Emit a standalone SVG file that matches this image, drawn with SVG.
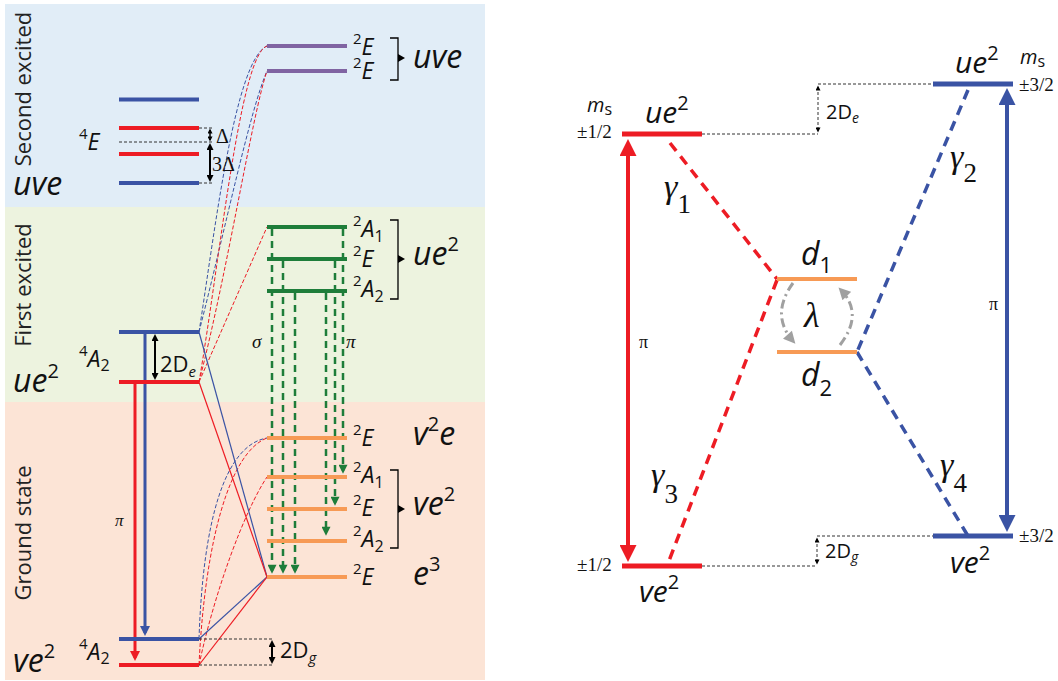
<svg xmlns="http://www.w3.org/2000/svg" width="1058" height="681" viewBox="0 0 1058 681">
<style>
.sans{font-family:'Open Sans','Liberation Sans',sans-serif;fill:#111}
.ser{font-family:'Liberation Serif',serif;fill:#111}
.it{font-style:italic}
.lab{font-size:23px}
.sp{font-size:15px;font-style:normal}
.sb{font-size:16px;font-style:normal}
.big{font-size:32px;font-style:italic}
.bsp{font-size:20px;font-style:normal}
.rot{font-size:22px;text-anchor:middle;fill:#222}
.lvl{stroke-width:4;fill:none}
.lvr{stroke-width:5;fill:none}
.thin{stroke-width:1.2;fill:none}
.tdash{stroke-width:1;fill:none;stroke-dasharray:4,2}
.gdash{stroke:#1e7d3a;stroke-width:2.5;stroke-dasharray:7,5;fill:none}
.cdash{stroke-width:3.5;stroke-dasharray:10,7;fill:none}
.kdash{stroke:#333;stroke-width:1;stroke-dasharray:3,2;fill:none}
</style>
<defs>
<marker id="mg" viewBox="0 0 10 10" refX="7" refY="5" markerWidth="12" markerHeight="9" markerUnits="userSpaceOnUse" orient="auto-start-reverse"><path d="M0,0L10,5L0,10z" fill="#1e7d3a"/></marker>
<marker id="mrs" viewBox="0 0 10 10" refX="7" refY="5" markerWidth="14" markerHeight="10" markerUnits="userSpaceOnUse" orient="auto-start-reverse"><path d="M0,0L10,5L0,10z" fill="#ed1c24"/></marker>
<marker id="mbs" viewBox="0 0 10 10" refX="7" refY="5" markerWidth="14" markerHeight="10" markerUnits="userSpaceOnUse" orient="auto-start-reverse"><path d="M0,0L10,5L0,10z" fill="#3a53a4"/></marker>
<marker id="mrl" viewBox="0 0 10 10" refX="7" refY="5" markerWidth="20" markerHeight="17" markerUnits="userSpaceOnUse" orient="auto-start-reverse"><path d="M0,0L10,5L0,10z" fill="#ed1c24"/></marker>
<marker id="mbl" viewBox="0 0 10 10" refX="7" refY="5" markerWidth="20" markerHeight="17" markerUnits="userSpaceOnUse" orient="auto-start-reverse"><path d="M0,0L10,5L0,10z" fill="#3a53a4"/></marker>
<marker id="mk" viewBox="0 0 10 10" refX="7" refY="5" markerWidth="8" markerHeight="7" markerUnits="userSpaceOnUse" orient="auto-start-reverse"><path d="M0,0L10,5L0,10z" fill="#000"/></marker>
<marker id="mks" viewBox="0 0 10 10" refX="7" refY="5" markerWidth="6" markerHeight="5" markerUnits="userSpaceOnUse" orient="auto-start-reverse"><path d="M0,0L10,5L0,10z" fill="#000"/></marker>
<marker id="mgr" viewBox="0 0 10 10" refX="7" refY="5" markerWidth="13" markerHeight="12" markerUnits="userSpaceOnUse" orient="auto-start-reverse"><path d="M0,0L10,5L0,10z" fill="#a0a0a0"/></marker>
</defs>

<g id="backgrounds">
<rect x="5" y="4" width="480" height="203" fill="#e1edf7"/>
<rect x="5" y="207" width="480" height="195" fill="#edf3df"/>
<rect x="5" y="402" width="480" height="278" fill="#fce4d6"/>
</g>

<g id="region-labels" class="sans">
<text class="rot" transform="translate(31,89) rotate(-90)">Second excited</text>
<text class="rot" transform="translate(31,285) rotate(-90)">First excited</text>
<text class="rot" transform="translate(31,533) rotate(-90)">Ground state</text>
<text x="13" y="195" class="big">uve</text>
<text x="13" y="392" class="big">ue<tspan class="bsp" dy="-14">2</tspan></text>
<text x="13" y="672" class="big">ve<tspan class="bsp" dy="-14">2</tspan></text>
</g>

<g id="connectors-left">
<path class="tdash" stroke="#3a53a4" d="M199,332 C215,230 235,60 267,46"/>
<path class="tdash" stroke="#3a53a4" d="M199,332 C225,230 250,110 267,71"/>
<path class="tdash" stroke="#ed1c24" d="M199,382 C220,260 240,55 267,46"/>
<path class="tdash" stroke="#ed1c24" d="M199,382 C228,270 252,115 267,71"/>
<path class="tdash" stroke="#ed1c24" d="M199,382 L267,227"/>
<path class="tdash" stroke="#3a53a4" d="M199,639 C203,520 225,445 267,438"/>
<path class="tdash" stroke="#ed1c24" d="M199,665 C205,540 230,452 267,438"/>
<path class="tdash" stroke="#ed1c24" d="M199,665 C215,590 245,510 267,477"/>
<path class="thin" stroke="#3a53a4" d="M199,332 L267,577"/>
<path class="thin" stroke="#ed1c24" d="M199,382 L267,577"/>
<path class="thin" stroke="#3a53a4" d="M199,639 L267,577"/>
<path class="thin" stroke="#ed1c24" d="M199,665 L267,577"/>
<line class="gdash" x1="272" y1="229" x2="272" y2="571" marker-end="url(#mg)"/>
<line class="gdash" x1="283" y1="261" x2="283" y2="571" marker-end="url(#mg)"/>
<line class="gdash" x1="295" y1="293" x2="295" y2="571" marker-end="url(#mg)"/>
<line class="gdash" x1="326" y1="293" x2="326" y2="533" marker-end="url(#mg)"/>
<line class="gdash" x1="335" y1="261" x2="335" y2="503" marker-end="url(#mg)"/>
<line class="gdash" x1="343" y1="229" x2="343" y2="471" marker-end="url(#mg)"/>
<line x1="135" y1="382" x2="135" y2="658" stroke="#ed1c24" stroke-width="3" marker-end="url(#mrs)"/>
<line x1="145" y1="332" x2="145" y2="633" stroke="#3a53a4" stroke-width="3" marker-end="url(#mbs)"/>
</g>

<g id="node-4E">
<line class="lvl" stroke="#3a53a4" x1="119" y1="99.5" x2="199" y2="99.5"/>
<line class="lvl" stroke="#ed1c24" x1="119" y1="128" x2="199" y2="128"/>
<line class="lvl" stroke="#ed1c24" x1="119" y1="154" x2="199" y2="154"/>
<line class="lvl" stroke="#3a53a4" x1="119" y1="183" x2="199" y2="183"/>
<line class="kdash" stroke="#555" x1="119" y1="142" x2="213" y2="142"/>
<line class="kdash" x1="199" y1="128" x2="213" y2="128"/>
<line class="kdash" x1="199" y1="183" x2="213" y2="183"/>
<line x1="210" y1="130" x2="210" y2="140" stroke="#000" stroke-width="1.5" marker-start="url(#mks)" marker-end="url(#mks)"/>
<line x1="210" y1="145" x2="210" y2="180" stroke="#000" stroke-width="2" marker-start="url(#mk)" marker-end="url(#mk)"/>
<text x="216" y="143" class="ser" font-size="20">Δ</text>
<text x="212" y="171" class="ser" font-size="20">3Δ</text>
<text x="79" y="150" class="sans it lab"><tspan class="sp" dy="-11">4</tspan><tspan dy="11">E</tspan></text>
</g>

<g id="node-uve-2E" class="sans">
<line class="lvl" stroke="#8064a2" x1="267" y1="46" x2="347" y2="46"/>
<line class="lvl" stroke="#8064a2" x1="267" y1="71" x2="347" y2="71"/>
<text x="353" y="55" class="it lab"><tspan class="sp" dy="-11">2</tspan><tspan dy="11">E</tspan></text>
<text x="353" y="79" class="it lab"><tspan class="sp" dy="-11">2</tspan><tspan dy="11">E</tspan></text>
<path d="M390,38H398V80H390" fill="none" stroke="#000" stroke-width="1.3"/>
<path d="M398,54L405,58L398,62z" fill="#000"/>
<text x="413" y="68" class="big">uve</text>
</g>

<g id="node-4A2-ue2">
<line class="lvl" stroke="#3a53a4" x1="119" y1="332" x2="199" y2="332"/>
<line class="lvl" stroke="#ed1c24" x1="119" y1="382" x2="199" y2="382"/>
<line x1="155" y1="336" x2="155" y2="378" stroke="#000" stroke-width="2" marker-start="url(#mk)" marker-end="url(#mk)"/>
<text x="160" y="372" class="sans" font-size="22">2D<tspan class="it" font-size="15" dy="5">e</tspan></text>
<text x="79" y="367" class="sans it lab"><tspan class="sp" dy="-11">4</tspan><tspan dy="11">A</tspan><tspan class="sb" dy="4">2</tspan></text>
</g>

<g id="node-ue2-doublets" class="sans">
<line class="lvl" stroke="#1e7d3a" x1="267" y1="227" x2="347" y2="227"/>
<line class="lvl" stroke="#1e7d3a" x1="267" y1="259" x2="347" y2="259"/>
<line class="lvl" stroke="#1e7d3a" x1="267" y1="291" x2="347" y2="291"/>
<text x="353" y="237" class="it lab"><tspan class="sp" dy="-11">2</tspan><tspan dy="11">A</tspan><tspan class="sb" dy="5">1</tspan></text>
<text x="353" y="267" class="it lab"><tspan class="sp" dy="-11">2</tspan><tspan dy="11">E</tspan></text>
<text x="353" y="297" class="it lab"><tspan class="sp" dy="-11">2</tspan><tspan dy="11">A</tspan><tspan class="sb" dy="5">2</tspan></text>
<path d="M390,220H398V299H390" fill="none" stroke="#000" stroke-width="1.3"/>
<path d="M398,255L405,259L398,263z" fill="#000"/>
<text x="413" y="265" class="big">ue<tspan class="bsp" dy="-14">2</tspan></text>
<text x="252" y="348" class="ser it" font-size="19">σ</text>
<text x="346" y="348" class="ser it" font-size="19">π</text>
</g>

<g id="node-ground-doublets" class="sans">
<line class="lvl" stroke="#f79a55" x1="267" y1="438" x2="347" y2="438"/>
<line class="lvl" stroke="#f79a55" x1="267" y1="477" x2="347" y2="477"/>
<line class="lvl" stroke="#f79a55" x1="267" y1="509" x2="347" y2="509"/>
<line class="lvl" stroke="#f79a55" x1="267" y1="541" x2="347" y2="541"/>
<line class="lvl" stroke="#f79a55" x1="267" y1="577" x2="347" y2="577"/>
<text x="353" y="446" class="it lab"><tspan class="sp" dy="-11">2</tspan><tspan dy="11">E</tspan></text>
<text x="413" y="445" class="big">v<tspan class="bsp" dy="-14">2</tspan><tspan dy="14">e</tspan></text>
<text x="353" y="483" class="it lab"><tspan class="sp" dy="-11">2</tspan><tspan dy="11">A</tspan><tspan class="sb" dy="5">1</tspan></text>
<text x="353" y="516" class="it lab"><tspan class="sp" dy="-11">2</tspan><tspan dy="11">E</tspan></text>
<text x="353" y="547" class="it lab"><tspan class="sp" dy="-11">2</tspan><tspan dy="11">A</tspan><tspan class="sb" dy="5">2</tspan></text>
<path d="M390,470H398V548H390" fill="none" stroke="#000" stroke-width="1.3"/>
<path d="M398,505L405,509L398,513z" fill="#000"/>
<text x="413" y="515" class="big">ve<tspan class="bsp" dy="-14">2</tspan></text>
<text x="353" y="585" class="it lab"><tspan class="sp" dy="-11">2</tspan><tspan dy="11">E</tspan></text>
<text x="413" y="585" class="big">e<tspan class="bsp" dy="-14">3</tspan></text>
</g>

<g id="node-4A2-ve2">
<line class="lvl" stroke="#3a53a4" x1="119" y1="639" x2="199" y2="639"/>
<line class="lvl" stroke="#ed1c24" x1="119" y1="665" x2="199" y2="665"/>
<line class="kdash" x1="199" y1="639" x2="272" y2="639"/>
<line class="kdash" x1="199" y1="665" x2="272" y2="665"/>
<line x1="272" y1="642" x2="272" y2="662" stroke="#000" stroke-width="2" marker-start="url(#mk)" marker-end="url(#mk)"/>
<text x="280" y="658" class="sans" font-size="22">2D<tspan class="it" font-size="15" dy="5">g</tspan></text>
<text x="79" y="660" class="sans it lab"><tspan class="sp" dy="-11">4</tspan><tspan dy="11">A</tspan><tspan class="sb" dy="4">2</tspan></text>
<text x="115" y="526" class="ser it" font-size="17">π</text>
</g>

<g id="connectors-right">
<path class="cdash" stroke="#ed1c24" d="M670,143 L777,279"/>
<path class="cdash" stroke="#ed1c24" d="M777,280 L667,566"/>
<path class="cdash" stroke="#3a53a4" d="M968,90 L857,352"/>
<path class="cdash" stroke="#3a53a4" d="M857,352 L968,536"/>
<line x1="628" y1="144" x2="628" y2="557" stroke="#ed1c24" stroke-width="4" marker-start="url(#mrl)" marker-end="url(#mrl)"/>
<line x1="1007" y1="93" x2="1007" y2="527" stroke="#3a53a4" stroke-width="4" marker-start="url(#mbl)" marker-end="url(#mbl)"/>
<path d="M793,283 Q770,315 793,341" fill="none" stroke="#a0a0a0" stroke-width="3" stroke-dasharray="9,4,2,4" marker-end="url(#mgr)"/>
<path d="M840,345 Q864,314 841,290" fill="none" stroke="#a0a0a0" stroke-width="3" stroke-dasharray="9,4,2,4" marker-end="url(#mgr)"/>
<path class="kdash" d="M702,134H818M818,84H933"/>
<line class="kdash" x1="818" y1="87" x2="818" y2="131" marker-start="url(#mks)" marker-end="url(#mks)"/>
<path class="kdash" d="M702,566H817M817,536H933"/>
<line class="kdash" x1="817" y1="539" x2="817" y2="563" marker-start="url(#mks)" marker-end="url(#mks)"/>
</g>

<g id="node-ue2-half">
<line class="lvr" stroke="#ed1c24" x1="622" y1="134" x2="702" y2="134"/>
<text x="645" y="123" class="sans it" font-size="30">ue<tspan class="bsp" font-size="19" dy="-13">2</tspan></text>
<text x="587" y="112" class="sans it" font-size="20">m<tspan font-style="normal" font-size="16" dy="3">s</tspan></text>
<text x="577" y="138" class="ser" font-size="19">±1/2</text>
</g>
<g id="node-ue2-threehalf">
<line class="lvr" stroke="#3a53a4" x1="933" y1="84" x2="1013" y2="84"/>
<text x="955" y="73" class="sans it" font-size="30">ue<tspan class="bsp" font-size="19" dy="-13">2</tspan></text>
<text x="1020" y="64" class="sans it" font-size="20">m<tspan font-style="normal" font-size="16" dy="3">s</tspan></text>
<text x="1019" y="91" class="ser" font-size="19">±3/2</text>
</g>
<g id="node-ve2-half">
<line class="lvr" stroke="#ed1c24" x1="622" y1="566" x2="702" y2="566"/>
<text x="639" y="602" class="sans it" font-size="30">ve<tspan class="bsp" font-size="19" dy="-13">2</tspan></text>
<text x="577" y="571" class="ser" font-size="19">±1/2</text>
</g>
<g id="node-ve2-threehalf">
<line class="lvr" stroke="#3a53a4" x1="933" y1="536" x2="1013" y2="536"/>
<text x="950" y="573" class="sans it" font-size="30">ve<tspan class="bsp" font-size="19" dy="-13">2</tspan></text>
<text x="1019" y="542" class="ser" font-size="19">±3/2</text>
</g>
<g id="node-d1">
<line class="lvl" stroke="#f79a55" x1="777" y1="279" x2="857" y2="279"/>
<text x="801" y="265" class="sans it" font-size="32">d<tspan font-style="normal" font-size="22" dy="8">1</tspan></text>
</g>
<g id="node-d2">
<line class="lvl" stroke="#f79a55" x1="777" y1="352" x2="857" y2="352"/>
<text x="801" y="386" class="sans it" font-size="32">d<tspan font-style="normal" font-size="22" dy="10">2</tspan></text>
</g>
<g id="right-labels" class="ser">
<text x="804" y="327" class="it" font-size="36">λ</text>
<text x="664" y="198" class="it" font-size="34">γ<tspan font-style="normal" font-size="27" dy="15">1</tspan></text>
<text x="950" y="168" class="it" font-size="34">γ<tspan font-style="normal" font-size="27" dy="14">2</tspan></text>
<text x="651" y="486" class="it" font-size="34">γ<tspan font-style="normal" font-size="27" dy="17">3</tspan></text>
<text x="940" y="476" class="it" font-size="34">γ<tspan font-style="normal" font-size="27" dy="16">4</tspan></text>
<text x="639" y="348" font-size="18">π</text>
<text x="989" y="310" font-size="18">π</text>
<text x="826" y="119" class="sans" font-size="20">2D<tspan class="it" font-size="14" dy="4">e</tspan></text>
<text x="825" y="558" class="sans" font-size="20">2D<tspan class="it" font-size="14" dy="4">g</tspan></text>
</g>
</svg>
